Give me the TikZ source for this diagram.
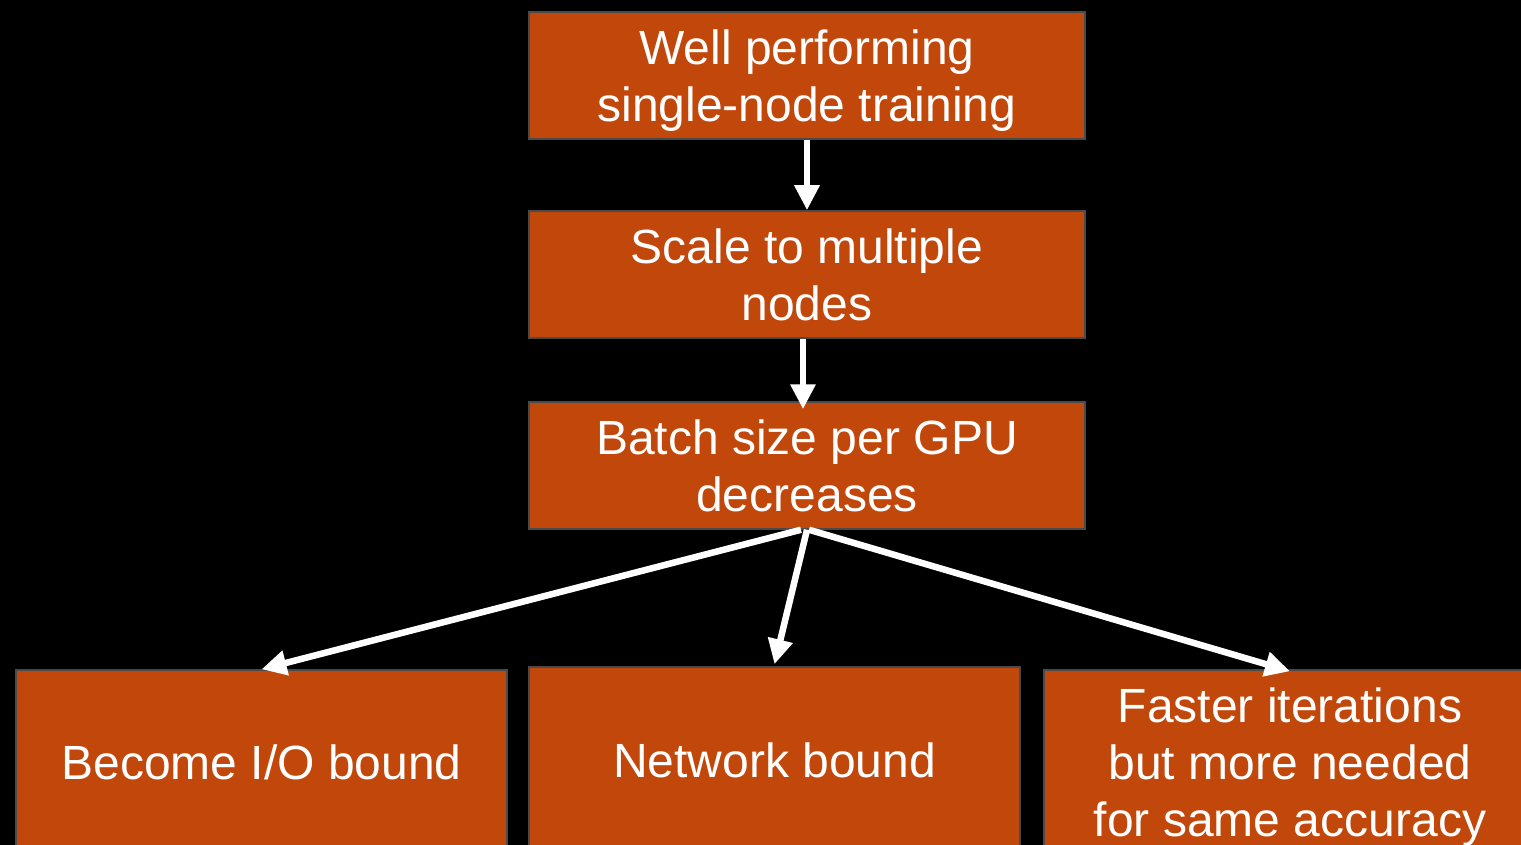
\documentclass[tikz,border=0pt]{standalone}
\usepackage{fontspec}
\setmainfont{Liberation Sans}
\usepackage{xcolor}
\usetikzlibrary{arrows.meta}
\definecolor{boxorange}{HTML}{C1470A}
\definecolor{boxedge}{HTML}{4A4A4A}

\begin{document}
\begin{tikzpicture}[x=1pt,y=-1pt]
        \fill[black] (0,0) rectangle (1521,845);
        \useasboundingbox (0,0) rectangle (1521,845);

        \begin{scope}[every node/.style = {rectangle, draw=boxedge, line width=1.5pt,
                        fill=boxorange, text=white, align=center, inner sep=0pt,
                        text depth=0pt, font=\fontsize{48}{57}\selectfont}]
            \node[minimum width=556pt, minimum height=127pt] (A) at (807, 75.5)  {Well performing\\single-node training};
            \node[minimum width=556pt, minimum height=127pt] (B) at (807, 274.5) {Scale to multiple\\nodes};
            \node[minimum width=556pt, minimum height=127pt] (C) at (807, 465.5) {Batch size per GPU\\decreases};

            \node[minimum width=491pt, minimum height=184pt] (D) at (261.5, 762) {Become I/O bound};
            \node[minimum width=491pt, minimum height=186pt] (E) at (774.5, 760) {Network bound};
            \node[minimum width=492pt, minimum height=184pt] (F) at (1290, 762)  {Faster iterations\\but more needed\\for same accuracy};
        \end{scope}

        \begin{scope}[>={Triangle[width=24pt,length=25pt]},
                        every edge/.style={draw=white,line width=6.5pt}]
            \path [->] (A) edge (B);
            \path [->] ([xshift=-4pt]B.south) edge ([xshift=-4pt,yshift=-8pt]C.north);

            \path [->] ([xshift=-6pt]C.south) edge (D.north);
            \path [->] (C.south) edge ([yshift=2pt]E.north);
            \path [->] ([xshift=2pt]C.south) edge ([yshift=-2pt]F.north);
        \end{scope}
    \end{tikzpicture}
\end{document}
